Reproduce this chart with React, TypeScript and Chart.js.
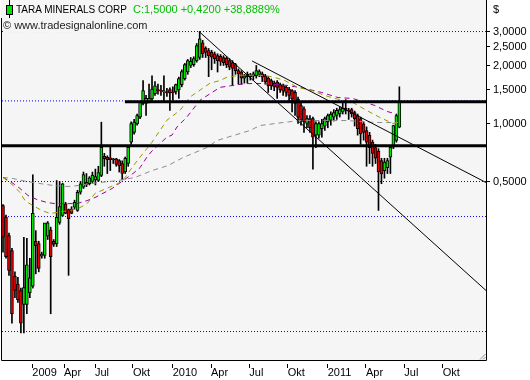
import React, { useEffect, useRef } from "react";
import { Chart, registerables } from "chart.js";

Chart.register(...registerables);

// Weekly candles (index 0 = first visible week)
const opens = [
  0.375, 0.327, 0.262, 0.219, 0.161, 0.147, 0.136, 0.115, 0.115, 0.132,
  0.143, 0.245, 0.238, 0.205, 0.207, 0.26, 0.281, 0.245, 0.238, 0.307,
  0.333, 0.383, 0.358, 0.36, 0.368, 0.354, 0.44, 0.467, 0.496, 0.487,
  0.5, 0.51, 0.506, 0.537, 0.676, 0.668, 0.664, 0.652, 0.656, 0.643,
  0.62, 0.56, 0.62, 0.8, 0.9, 0.996, 1.078, 1.27, 1.27, 1.3,
  1.34, 1.43, 1.49, 1.48, 1.46, 1.45, 1.5, 1.45, 1.46, 1.5,
  1.59, 1.71, 1.85, 2.0, 2.02, 2.12, 2.2, 2.62, 2.46, 2.39,
  2.34, 2.3, 2.25, 2.23, 2.2, 2.18, 2.12, 2.07, 2.02, 1.88,
  1.85, 1.72, 1.8, 1.75, 1.76, 1.77, 1.8, 1.81, 1.77, 1.72,
  1.67, 1.62, 1.64, 1.59, 1.57, 1.54, 1.51, 1.48, 1.45, 1.34,
  1.24, 1.19, 1.0, 1.06, 1.06, 0.87, 0.87, 0.94, 0.97, 1.02,
  1.04, 1.08, 1.1, 1.12, 1.15, 1.17, 1.17, 1.18, 1.14, 1.1,
  1.06, 0.996, 0.92, 0.87, 0.8, 0.75, 0.72, 0.643, 0.57, 0.59,
  0.668, 0.753, 0.816, 0.957,
];
const highs = [
  0.38, 0.335, 0.27, 0.225, 0.17, 0.159, 0.14, 0.257, 0.254, 0.2,
  0.542, 0.278, 0.245, 0.215, 0.24, 0.31, 0.29, 0.25, 0.506, 0.5,
  0.49, 0.39, 0.36, 0.37, 0.4, 0.45, 0.5, 0.56, 0.55, 0.53,
  0.56, 0.58, 0.6, 1.016, 0.7, 0.68, 0.76, 0.66, 0.66, 0.65,
  0.64, 0.67, 0.76, 1.02, 1.05, 1.12, 1.3, 1.67, 1.4, 1.6,
  1.77, 1.65, 1.6, 1.58, 1.77, 1.52, 1.53, 1.55, 1.6, 1.74,
  1.9, 2.05, 2.15, 2.2, 2.22, 2.6, 3.0, 2.7, 2.5, 2.45,
  2.4, 2.35, 2.3, 2.28, 2.25, 2.22, 2.17, 2.12, 2.05, 1.92,
  1.88, 1.8, 1.85, 1.82, 1.85, 2.0, 1.9, 1.85, 1.8, 1.75,
  1.7, 1.66, 1.67, 1.62, 1.6, 1.57, 1.54, 1.5, 1.48, 1.37,
  1.28, 1.22, 1.1, 1.1, 1.08, 1.02, 1.02, 1.05, 1.08, 1.12,
  1.15, 1.18, 1.2, 1.22, 1.28, 1.33, 1.2, 1.2, 1.16, 1.12,
  1.08, 1.02, 0.96, 0.9, 0.82, 0.78, 0.74, 0.66, 0.66, 0.66,
  0.76, 0.98, 1.12, 1.55,
];
const lows = [
  0.215, 0.2, 0.163, 0.092, 0.125, 0.118, 0.082, 0.082, 0.103, 0.125,
  0.14, 0.166, 0.17, 0.2, 0.2, 0.25, 0.103, 0.23, 0.23, 0.3,
  0.33, 0.34, 0.163, 0.34, 0.36, 0.35, 0.43, 0.46, 0.47, 0.48,
  0.49, 0.48, 0.5, 0.53, 0.6, 0.55, 0.57, 0.62, 0.6, 0.56,
  0.51, 0.55, 0.6, 0.78, 0.88, 0.98, 1.06, 1.25, 1.1, 1.28,
  1.3, 1.4, 1.42, 1.4, 1.3, 1.38, 1.17, 1.32, 1.42, 1.35,
  1.55, 1.68, 1.8, 1.95, 1.98, 2.08, 2.15, 2.2, 2.2, 1.75,
  1.9, 2.05, 1.85, 2.0, 2.0, 1.95, 1.9, 1.57, 1.8, 1.6,
  1.6, 1.62, 1.62, 1.68, 1.68, 1.72, 1.75, 1.65, 1.6, 1.45,
  1.5, 1.48, 1.35, 1.45, 1.4, 1.38, 1.3, 1.15, 1.1, 1.0,
  0.98, 0.9, 0.95, 0.9, 0.58, 0.75, 0.84, 0.85, 0.92, 0.95,
  0.98, 1.03, 1.05, 1.08, 1.12, 1.12, 1.05, 1.08, 0.97, 0.87,
  0.78, 0.82, 0.6, 0.62, 0.6, 0.62, 0.354, 0.487, 0.52, 0.55,
  0.55, 0.74, 0.8, 0.95,
];
const closes = [
  0.257, 0.204, 0.173, 0.103, 0.136, 0.122, 0.092, 0.141, 0.185, 0.158,
  0.342, 0.232, 0.177, 0.21, 0.305, 0.305, 0.204, 0.236, 0.326, 0.371,
  0.487, 0.342, 0.321, 0.342, 0.39, 0.44, 0.487, 0.544, 0.48, 0.522,
  0.54, 0.53, 0.557, 0.753, 0.656, 0.65, 0.65, 0.648, 0.613, 0.605,
  0.55, 0.66, 0.753, 1.0, 1.016, 1.1, 1.29, 1.48, 1.35, 1.35,
  1.51, 1.57, 1.48, 1.47, 1.47, 1.44, 1.44, 1.44, 1.59, 1.71,
  1.86, 2.02, 2.12, 2.1, 2.17, 2.54, 2.75, 2.3, 2.34, 2.25,
  2.21, 2.17, 2.12, 2.1, 2.07, 2.02, 1.96, 1.93, 1.88, 1.81,
  1.72, 1.77, 1.75, 1.79, 1.81, 1.88, 1.86, 1.74, 1.65, 1.57,
  1.57, 1.55, 1.54, 1.5, 1.47, 1.45, 1.4, 1.34, 1.27, 1.08,
  1.04, 1.02, 1.06, 0.95, 0.85, 1.0, 1.0, 1.0, 1.06, 1.1,
  1.12, 1.14, 1.17, 1.18, 1.2, 1.2, 1.16, 1.12, 1.06, 0.94,
  0.884, 0.9, 0.8, 0.75, 0.7, 0.66, 0.56, 0.548, 0.63, 0.643,
  0.753, 0.976, 1.1, 1.29,
];

// X axis (bar index positions of the month marks)
const xTickIdx = [9.83, 20.47, 30.87, 43.62, 56.95, 69.8, 82.65, 95.54, 108.96, 121.81, 134.66, 147.55];
const xTickLabels = ["2009", "Apr", "Jul", "Okt", "2010", "Apr", "Jul", "Okt", "2011", "Apr", "Jul", "Okt"];
const X_MIN = -0.34;
const X_MAX = 162.08;

// Y axis
const yTickValues = [3, 2.5, 2, 1.5, 1, 0.5];
const Y_MIN = 0.05928;
const Y_MAX = 4.373;
const gridPrices = [3.0, 1.31, 0.5, 0.329, 0.0833];

// Moving averages
const maOliveIdx = [0, 3.4, 5.7, 7.4, 10, 13, 15.8, 19.8, 22.5, 25.2, 28.2, 30.9, 38.6, 41, 43.6, 47, 50, 55, 59.4, 62.7, 66.1, 69.5, 72.8, 75.2, 79.5, 84, 88, 91.3, 94.6, 99, 103.7, 108, 111.4, 117.4, 122.1, 126.5, 130.9, 132.6];
const maOliveVal = [0.525, 0.477, 0.439, 0.398, 0.375, 0.354, 0.341, 0.349, 0.354, 0.362, 0.384, 0.434, 0.488, 0.525, 0.6, 0.7, 0.8, 1.04, 1.17, 1.37, 1.49, 1.62, 1.67, 1.74, 1.78, 1.78, 1.774, 1.732, 1.67, 1.537, 1.483, 1.397, 1.348, 1.285, 1.168, 1.074, 1.0, 1.012];
const maPurpleIdx = [0, 3, 5.7, 8.4, 11.4, 14.8, 17.4, 21.5, 24.8, 28.2, 30.9, 36.6, 43.6, 46, 48.3, 50, 55, 56.7, 58.4, 61.7, 66.1, 72.8, 81.2, 87, 95.6, 101.3, 107, 112.4, 117.4, 124.8, 128.9, 131.5];
const maPurpleVal = [0.525, 0.494, 0.46, 0.423, 0.403, 0.389, 0.384, 0.384, 0.384, 0.398, 0.413, 0.46, 0.55, 0.59, 0.67, 0.72, 0.85, 0.87, 0.96, 1.08, 1.32, 1.54, 1.61, 1.613, 1.575, 1.52, 1.448, 1.364, 1.348, 1.24, 1.154, 1.127];
const maGreyIdx = [0, 3.4, 8, 12.4, 16.8, 21.5, 25.8, 29.2, 38.6, 44.3, 50, 55.4, 60.4, 68.5, 71.8, 82.9, 86.2, 94, 99.7, 115.4, 124.8, 132.6];
const maGreyVal = [0.525, 0.518, 0.5, 0.488, 0.477, 0.471, 0.477, 0.488, 0.506, 0.525, 0.57, 0.605, 0.666, 0.751, 0.816, 0.92, 0.976, 1.012, 1.036, 1.036, 1.012, 1.012];

// Drawn lines
const trendAIdx = [65.8, 162.08];
const trendAVal = [3.0, 0.136];
const trendBIdx = [83.6, 162.08];
const trendBVal = [2.11, 0.494];
const resUpperIdx = [40.9, 162.08];
const resUpperVal = [1.298, 1.298];
const resLowerIdx = [-0.34, 162.08];
const resLowerVal = [0.767, 0.767];

const GREEN = "#00e600";
const RED = "#e60000";
const PLOT_BG = "#f5f5f5";
const FONT = "'Liberation Sans', Arial, sans-serif";

const pts = (xs: number[], ys: number[]) => xs.map((x, i) => ({ x, y: ys[i] }));

const framePlugin = {
  id: "frame",
  beforeDraw(chart: any) {
    const { ctx, chartArea: a } = chart;
    ctx.save();
    ctx.fillStyle = PLOT_BG;
    ctx.fillRect(a.left, a.top, a.right - a.left, a.bottom - a.top);
    ctx.restore();
  },
  afterDraw(chart: any) {
    const { ctx, chartArea: a } = chart;
    ctx.save();
    ctx.strokeStyle = "#000";
    ctx.lineWidth = 1;
    ctx.beginPath();
    ctx.moveTo(a.left - 0.5, a.top);
    ctx.lineTo(a.left - 0.5, a.bottom + 0.5);
    ctx.lineTo(a.right + 0.5, a.bottom + 0.5);
    ctx.lineTo(a.right + 0.5, a.top);
    ctx.stroke();
    // resize grip
    ctx.strokeStyle = "#909090";
    ctx.beginPath();
    ctx.moveTo(a.right - 6, a.bottom - 0.5);
    ctx.lineTo(a.right - 0.5, a.bottom - 6);
    ctx.moveTo(a.right - 3, a.bottom - 0.5);
    ctx.lineTo(a.right - 0.5, a.bottom - 3);
    ctx.stroke();
    ctx.restore();
  },
};

export default function App() {
  const ref = useRef<HTMLCanvasElement | null>(null);

  useEffect(() => {
    if (!ref.current) return;
    const lineDs = (data: any[], color: string, width: number, dash: number[], order: number) => ({
      type: "line" as const,
      data,
      borderColor: color,
      borderWidth: width,
      borderDash: dash,
      pointRadius: 0,
      tension: 0,
      fill: false,
      order,
    });

    const datasets: any[] = [];
    gridPrices.forEach((p) => {
      datasets.push(lineDs(pts([X_MIN, X_MAX], [p, p]), "#0000ff", 1, [1, 2], 20));
    });
    datasets.push({
      type: "bar",
      data: lows.map((l, i) => ({ x: i, y: [l, highs[i]] })),
      backgroundColor: "#000",
      borderWidth: 0,
      barThickness: 1,
      grouped: false,
      order: 12,
    });
    datasets.push({
      type: "bar",
      data: opens.map((o, i) => ({ x: i, y: [o, closes[i]] })),
      backgroundColor: (c: any) => (closes[c.dataIndex] >= opens[c.dataIndex] ? GREEN : RED),
      borderColor: "#000",
      borderWidth: 1,
      borderSkipped: false,
      barThickness: 3,
      minBarLength: 1,
      grouped: false,
      order: 11,
    });
    datasets.push(lineDs(pts(maGreyIdx, maGreyVal), "#8c8c8c", 1, [5, 4], 6));
    datasets.push(lineDs(pts(maPurpleIdx, maPurpleVal), "#990099", 1, [5, 4], 5));
    datasets.push(lineDs(pts(maOliveIdx, maOliveVal), "#999900", 1, [5, 4], 4));
    datasets.push(lineDs(pts(trendAIdx, trendAVal), "#000", 1, [], 3));
    datasets.push(lineDs(pts(trendBIdx, trendBVal), "#000", 1, [], 3));
    datasets.push(lineDs(pts(resUpperIdx, resUpperVal), "#000", 3, [], 2));
    datasets.push(lineDs(pts(resLowerIdx, resLowerVal), "#000", 3, [], 2));

    const chart = new Chart(ref.current, {
      type: "bar",
      data: { datasets },
      options: {
        animation: false,
        responsive: false,
        events: [],
        layout: { padding: { left: 2, right: 0, top: 0, bottom: 0 } },
        plugins: { legend: { display: false }, tooltip: { enabled: false } },
        scales: {
          x: {
            type: "linear",
            position: "bottom",
            min: X_MIN,
            max: X_MAX,
            offset: false,
            afterBuildTicks: (s: any) => {
              s.ticks = xTickIdx.map((v) => ({ value: v }));
            },
            afterFit: (s: any) => {
              s.height = 20;
              s.paddingLeft = 0;
              s.paddingRight = 0;
            },
            ticks: {
              autoSkip: false,
              maxRotation: 0,
              align: "start",
              padding: -2,
              color: "#000",
              font: { family: FONT, size: 11 },
              callback: (_v: any, idx: number) => xTickLabels[idx],
            },
            grid: {
              display: true,
              offset: false,
              drawOnChartArea: false,
              drawTicks: true,
              tickLength: 8,
              tickColor: "#000",
              tickBorderDash: [0, 4, 4, 40],
            },
            border: { display: false },
          },
          y: {
            type: "logarithmic",
            position: "right",
            min: Y_MIN,
            max: Y_MAX,
            afterBuildTicks: (s: any) => {
              s.ticks = yTickValues.map((v) => ({ value: v }));
            },
            afterFit: (s: any) => {
              s.width = 44;
              s.paddingTop = 0;
              s.paddingBottom = 0;
            },
            ticks: {
              autoSkip: false,
              padding: 3,
              color: "#000",
              font: { family: FONT, size: 11 },
              callback: (v: any) => Number(v).toFixed(4).replace(".", ","),
            },
            grid: {
              display: true,
              drawOnChartArea: false,
              drawTicks: true,
              tickLength: 4,
              tickColor: "#000",
            },
            border: { display: false },
          },
        },
      } as any,
      plugins: [framePlugin],
    });
    return () => chart.destroy();
  }, []);

  return (
    <div style={{ position: "absolute", left: 0, top: 0, width: 530, height: 380, background: "#fff", overflow: "hidden" }}>
      <canvas ref={ref} width={530} height={380} style={{ position: "absolute", left: 0, top: 0 }} />
      <div style={{ position: "absolute", left: 1, top: 0, width: 300, height: 18, background: PLOT_BG }} />
      <div style={{ position: "absolute", left: 9, top: 0, width: 1, height: 18, background: "#000" }} />
      <div style={{ position: "absolute", left: 6, top: 5, width: 5, height: 8, background: "#00e000", border: "1px solid #000" }} />
      <div style={{ position: "absolute", left: 16, top: 3, font: `10px ${FONT}`, lineHeight: "13px", color: "#000", whiteSpace: "nowrap" }}>
        TARA MINERALS CORP
      </div>
      <div style={{ position: "absolute", left: 133, top: 3, font: `11px ${FONT}`, lineHeight: "13px", color: "#00c000", whiteSpace: "nowrap" }}>
        C:1,5000 +0,4200 +38,8889%
      </div>
      <div style={{ position: "absolute", left: 3, top: 19, height: 13, paddingRight: 2, background: PLOT_BG, font: `11px ${FONT}`, lineHeight: "13px", color: "#222", whiteSpace: "nowrap" }}>
        © www.tradesignalonline.com
      </div>
      <div style={{ position: "absolute", left: 493, top: 3, font: `11px ${FONT}`, lineHeight: "13px", color: "#000" }}>$</div>
    </div>
  );
}
